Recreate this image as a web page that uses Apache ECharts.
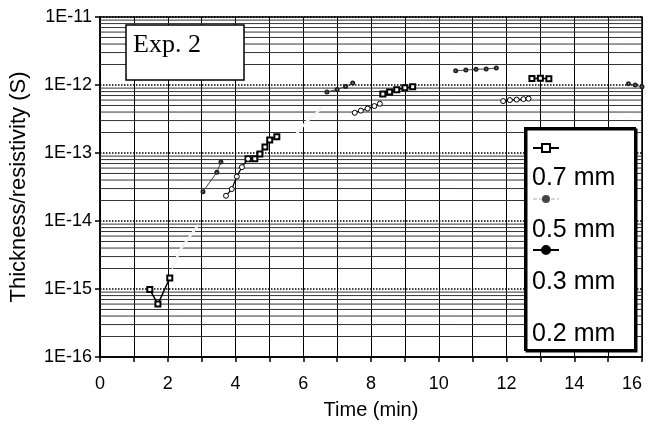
<style>
  body { margin: 0; }
</style>
<script src="https://cdn.jsdelivr.net/npm/echarts@6/dist/echarts.min.js"></script>
<div id="chart" style="width: 650px; height: 427px"></div>

<script>
  // values, [time (min), thickness/resistivity (S)]
  // ['-', '-'] breaks the line between runs
  const mm07 = [
    [1.47, 9.8e-16], [1.71, 6.0e-16], [2.06, 1.45e-15], ['-', '-'],
    [4.37, 8.2e-14], [4.57, 8.2e-14], [4.72, 9.7e-14], [4.87, 1.23e-13], [5.01, 1.55e-13], [5.22, 1.73e-13], ['-', '-'],
    [8.35, 7.4e-13], [8.55, 7.9e-13], [8.76, 8.5e-13], [9.0, 9.1e-13], [9.23, 9.4e-13], ['-', '-'],
    [12.75, 1.25e-12], [13.0, 1.26e-12], [13.25, 1.24e-12]
  ]
  const mm05 = [
    [3.04, 2.7e-14], [3.45, 5.2e-14], [3.57, 7.4e-14], ['-', '-'],
    [6.7, 7.9e-13], [7.0, 8.6e-13], [7.25, 9.5e-13], [7.46, 1.07e-12], ['-', '-'],
    [10.5, 1.62e-12], [10.8, 1.66e-12], [11.1, 1.7e-12], [11.4, 1.72e-12], [11.7, 1.78e-12], ['-', '-'],
    [15.6, 1.04e-12], [15.8, 1.0e-12], [16.0, 9.4e-13]
  ]
  const mm05Faint = [
    [2.12, 2.0e-15], [2.4, 4.0e-15], [2.9, 8.7e-15], ['-', '-'],
    [5.81, 1.95e-13], [6.1, 2.9e-13], [6.4, 3.9e-13], [6.55, 4.8e-13]
  ]
  const mm03 = [
    [3.72, 2.35e-14], [3.89, 2.95e-14], [4.04, 4.5e-14], [4.19, 6.2e-14], [4.37, 8.2e-14], ['-', '-'],
    [7.52, 3.9e-13], [7.7, 4.2e-13], [7.9, 4.5e-13], [8.1, 4.9e-13], [8.26, 5.3e-13], ['-', '-'],
    [11.9, 5.8e-13], [12.1, 6.0e-13], [12.3, 6.1e-13], [12.5, 6.2e-13], [12.65, 6.3e-13]
  ]
  const mm02 = []

  const legendNames = ['0.7 mm', '0.5 mm', '0.3 mm', '0.2 mm']
  const decades = [-16, -15, -14, -13, -12]
  const minorSteps = [2, 3, 4, 5, 6, 7, 8, 9]

  // minor log grid lines at 2..9 of each decade
  const minorLines = []
  decades.forEach(d => {
    minorSteps.forEach(m => {
      minorLines.push([0, m * Math.pow(10, d)])
    })
  })

  const font = 'Liberation Sans, Arial, sans-serif'
  const myChart = echarts.init(document.getElementById('chart'))

  myChart.setOption({
    animation: false,
    grid: {
      left: 100,
      right: 8,
      top: 17,
      bottom: 70,
      outerBoundsMode: 'none',
      containLabel: false,
      show: true,
      borderColor: '#000',
      borderWidth: 1.5
    },
    xAxis: {
      type: 'value',
      min: 0,
      max: 16,
      interval: 1,
      name: 'Time (min)',
      nameLocation: 'middle',
      nameGap: 36,
      nameMoveOverlap: false,
      nameTextStyle: { fontFamily: font, fontSize: 20, color: '#000' },
      axisLine: { lineStyle: { color: '#000', width: 1.5 } },
      axisTick: { length: 5, lineStyle: { color: '#000', width: 1.5 } },
      axisLabel: {
        fontFamily: font,
        fontSize: 18,
        color: '#000',
        margin: 12,
        alignMaxLabel: 'right',
        formatter: v => (v % 2 === 0 ? String(v) : '')
      },
      splitLine: { show: true, lineStyle: { color: '#000', width: 1 } }
    },
    yAxis: {
      type: 'log',
      logBase: 10,
      min: 1e-16,
      max: 1e-11,
      name: 'Thickness/resistivity (S)',
      nameLocation: 'middle',
      nameGap: 62,
      nameMoveOverlap: false,
      nameTextStyle: { fontFamily: font, fontSize: 22, color: '#000' },
      axisLine: { lineStyle: { color: '#000', width: 1.5 } },
      axisTick: { length: 5, lineStyle: { color: '#000', width: 1.5 } },
      axisLabel: {
        fontFamily: font,
        fontSize: 18,
        color: '#000',
        margin: 8,
        formatter: v => '1E' + Math.round(Math.log10(v))
      },
      splitLine: { show: true, lineStyle: { color: '#000', width: 1.5, type: 'dotted' } }
    },
    legend: {
      orient: 'vertical',
      left: 527,
      top: 138,
      itemWidth: 26,
      itemHeight: 10,
      itemGap: 42,
      z: 20,
      formatter: () => ' ',
      textStyle: { fontSize: 1 },
      data: [
        { name: legendNames[0] },
        { name: legendNames[1], lineStyle: { color: '#aaa', type: 'dashed', width: 1 }, itemStyle: { color: '#444' } },
        { name: legendNames[2], itemStyle: { color: '#000', borderColor: '#000' } },
        { name: legendNames[3] }
      ]
    },
    graphic: [
      {
        type: 'rect',
        z: 10,
        shape: { x: 126, y: 25, width: 118, height: 55 },
        style: { fill: '#fff', stroke: '#000', lineWidth: 1.5 }
      },
      {
        type: 'text',
        z: 11,
        x: 133,
        y: 45,
        style: { text: 'Exp. 2', fill: '#000', font: '26px "Liberation Serif", "Times New Roman", serif', verticalAlign: 'middle' }
      },
      {
        type: 'rect',
        z: 10,
        shape: { x: 525, y: 128, width: 110, height: 222 },
        style: { fill: '#fff', stroke: '#000', lineWidth: 2, shadowColor: '#000', shadowOffsetX: 1.5, shadowOffsetY: 1.5 }
      },
      ...legendNames.map((name, i) => ({
        type: 'text',
        z: 21,
        x: 532,
        y: 178 + i * 52,
        style: { text: name, fill: '#000', font: '25px ' + font, verticalAlign: 'middle' }
      }))
    ],
    series: [
      {
        name: 'minor grid',
        type: 'custom',
        data: minorLines,
        z: 1,
        silent: true,
        clip: true,
        renderItem: (params, api) => {
          const v = api.value(1)
          const p1 = api.coord([0, v])
          const p2 = api.coord([16, v])
          return {
            type: 'line',
            shape: { x1: p1[0], y1: p1[1], x2: p2[0], y2: p2[1] },
            style: { stroke: '#333', lineWidth: 1 }
          }
        }
      },
      {
        name: legendNames[1],
        type: 'line',
        data: mm05Faint,
        z: 2,
        symbol: 'none',
        itemStyle: { color: '#222' },
        lineStyle: { color: '#f4f4f4', width: 2.5 }
      },
      {
        name: legendNames[0],
        type: 'line',
        data: mm07,
        z: 3,
        symbol: 'emptyRect',
        symbolSize: 5,
        itemStyle: { color: '#000', borderWidth: 1 },
        lineStyle: { color: '#000', width: 1.5 }
      },
      {
        name: legendNames[1],
        type: 'line',
        data: mm05,
        z: 3,
        symbol: 'emptyCircle',
        symbolSize: 3,
        itemStyle: { color: '#222', borderWidth: 1 },
        lineStyle: { color: '#444', width: 1 }
      },
      {
        name: legendNames[2],
        type: 'line',
        data: mm03,
        z: 3,
        symbol: 'circle',
        symbolSize: 5,
        itemStyle: { color: '#fff', borderColor: '#000', borderWidth: 1 },
        lineStyle: { color: '#000', width: 1.2 }
      },
      {
        name: legendNames[3],
        type: 'line',
        data: mm02,
        symbol: 'none',
        itemStyle: { color: '#fff' },
        lineStyle: { color: '#fff', width: 0 }
      }
    ]
  })
</script>
